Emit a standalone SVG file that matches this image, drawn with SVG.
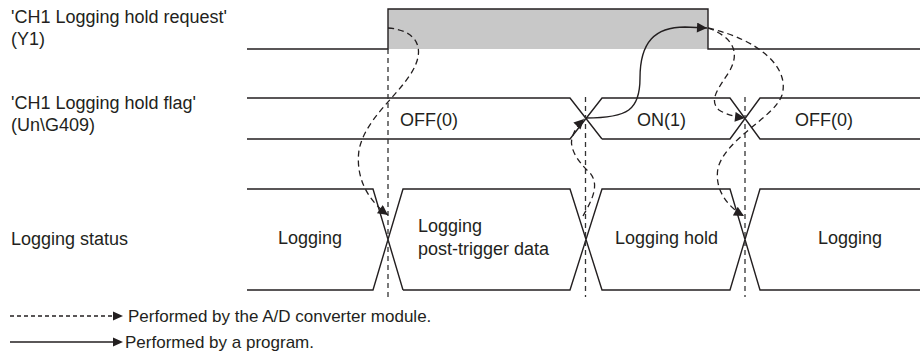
<svg xmlns="http://www.w3.org/2000/svg" width="921" height="359" viewBox="0 0 921 359">
<style>
  text { font-family: "Liberation Sans", Arial, sans-serif; font-size: 18px; fill: #231f20; }
  .legend { font-size: 17px; }
  .wave { fill: none; stroke: #231f20; stroke-width: 1.4; }
  .guide { fill: none; stroke: #333; stroke-width: 1.3; stroke-dasharray: 5 4; }
  .dash { fill: none; stroke: #231f20; stroke-width: 1.3; stroke-dasharray: 6 4; }
  .solid { fill: none; stroke: #231f20; stroke-width: 1.4; }
</style>
<defs>
  <marker id="ah" viewBox="0 0 10 10" refX="10" refY="5" markerWidth="13" markerHeight="10" markerUnits="userSpaceOnUse" orient="auto">
    <path d="M0,0 L10,5 L0,10 z" fill="#231f20"/>
  </marker>
</defs>
<rect width="921" height="359" fill="#fff"/>

<g id="label-y1">
  <text x="11" y="23">'CH1 Logging hold request'</text>
  <text x="11" y="45">(Y1)</text>
</g>
<g id="label-flag">
  <text x="11" y="109">'CH1 Logging hold flag'</text>
  <text x="11" y="131">(Un\G409)</text>
</g>
<g id="label-status">
  <text x="11" y="245">Logging status</text>
</g>

<g id="wave-y1">
  <rect x="388" y="9" width="320" height="40" fill="#c8c8c8"/>
  <path class="wave" d="M247,49 H388 V9 H708 V49 H920"/>
</g>

<g id="wave-flag">
  <path class="wave" d="M247,98 H570 L602,139 M247,139 H570 L602,98 H730 L760,139 H920 M602,139 H730 L760,98 H920"/>
  <text x="400" y="126">OFF(0)</text>
  <text x="637" y="126">ON(1)</text>
  <text x="795" y="126">OFF(0)</text>
</g>

<g id="wave-status">
  <path class="wave" d="M247,189 H373 L403,290 M247,290 H373 L403,189 H570 L602,290 H730 L760,189 H920 M403,290 H570 L602,189 H730 L760,290 H920"/>
  <text x="278" y="244">Logging</text>
  <text x="418" y="232">Logging</text>
  <text x="418" y="255">post-trigger data</text>
  <text x="615" y="244">Logging hold</text>
  <text x="818" y="244">Logging</text>
</g>

<g id="connectors">
  <path class="guide" d="M388,49 V297 M585.5,97 V297 M745,97 V297"/>
  <path class="dash" marker-end="url(#ah)" d="M388,28 C416,30 428,48 410,75 C395,98 365,120 359,150 C355,180 370,202 388,215"/>
  <path class="dash" marker-end="url(#ah)" d="M583,216 C592,200 600,185 590,173 C576,160 568,146 573,135 C575,129 579,124 584,119"/>
  <path class="solid" marker-end="url(#ah)" d="M586,118 C628,118 640,110 640,78 C640,42 655,27 685,27 L707,28"/>
  <path class="dash" marker-end="url(#ah)" d="M708,28 C730,36 742,50 729,72 C719,88 708,100 719,110 C727,115 736,117 745,118"/>
  <path class="dash" marker-end="url(#ah)" d="M708,28 C760,40 790,68 782,95 C775,117 726,138 718,168 C714,190 728,207 744,216"/>
</g>

<g id="legend">
  <path class="dash" style="stroke-dasharray:4 3" d="M10,316 H114"/>
  <path d="M113,311.5 L123,316 L113,320.5 z" fill="#231f20"/>
  <text class="legend" x="128" y="322">Performed by the A/D converter module.</text>
  <path class="solid" d="M10,342 H114"/>
  <path d="M113,337.5 L123,342 L113,346.5 z" fill="#231f20"/>
  <text class="legend" x="125" y="348">Performed by a program.</text>
</g>
</svg>
